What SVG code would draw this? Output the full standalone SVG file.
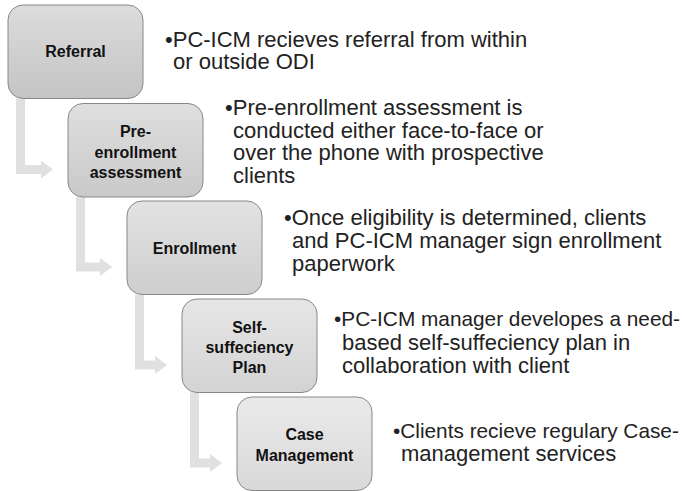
<svg xmlns="http://www.w3.org/2000/svg" width="682" height="491" viewBox="0 0 682 491">
  <defs>
    <linearGradient id="g1" x1="0" y1="0" x2="0" y2="1">
      <stop offset="0" stop-color="#dcdcdc"/>
      <stop offset="1" stop-color="#c4c4c4"/>
    </linearGradient>
    <linearGradient id="g2" x1="0" y1="0" x2="0" y2="1">
      <stop offset="0" stop-color="#dfdfdf"/>
      <stop offset="1" stop-color="#c9c9c9"/>
    </linearGradient>
    <linearGradient id="g3" x1="0" y1="0" x2="0" y2="1">
      <stop offset="0" stop-color="#e2e2e2"/>
      <stop offset="1" stop-color="#cecece"/>
    </linearGradient>
    <linearGradient id="g4" x1="0" y1="0" x2="0" y2="1">
      <stop offset="0" stop-color="#e6e6e6"/>
      <stop offset="1" stop-color="#d3d3d3"/>
    </linearGradient>
    <linearGradient id="g5" x1="0" y1="0" x2="0" y2="1">
      <stop offset="0" stop-color="#eaeaea"/>
      <stop offset="1" stop-color="#d9d9d9"/>
    </linearGradient>
  </defs>
  <style>
    .box { stroke: #888888; stroke-width: 1; }
    .label { font-family: "Liberation Sans", Arial, sans-serif; font-weight: bold; font-size: 16px; fill: #111111; text-anchor: middle; }
    .desc { font-family: "Liberation Sans", Arial, sans-serif; font-size: 22px; fill: #222222; }
    .desc .fit { font-size: 20.8px; }
    .bend { fill: #e0e0e0; }
  </style>

  <rect width="682" height="491" fill="#ffffff"/>

  <!-- bent connectors between consecutive steps -->
  <g id="connectors">
    <path class="bend" d="M16,98.5 H25 V165 H41 V160.5 L53,169.5 L41,178.5 V174 H16 Z"/>
    <path class="bend" d="M76,197 H85 V262.5 H100 V258 L112,267 L100,276 V271.5 H76 Z"/>
    <path class="bend" d="M135,294.5 H144 V360.5 H155 V356 L167,365 L155,374 V369.5 H135 Z"/>
    <path class="bend" d="M190,392.5 H199 V458.5 H210 V454 L222,463 L210,472 V467.5 H190 Z"/>
  </g>

  <g id="step-referral">
    <rect class="box" x="8" y="5" width="135" height="93.5" rx="15" fill="url(#g1)"/>
    <text class="label" x="75.5" y="57">Referral</text>
  </g>

  <g id="step-pre-enrollment">
    <rect class="box" x="68" y="103.5" width="135" height="93.5" rx="15" fill="url(#g2)"/>
    <text class="label" x="135.5" y="137">Pre-</text>
    <text class="label" x="135.5" y="157.5">enrollment</text>
    <text class="label" x="135.5" y="178">assessment</text>
  </g>

  <g id="step-enrollment">
    <rect class="box" x="127" y="201" width="135" height="93.5" rx="15" fill="url(#g3)"/>
    <text class="label" x="194.5" y="253.5">Enrollment</text>
  </g>

  <g id="step-plan">
    <rect class="box" x="182" y="299" width="135" height="93.5" rx="15" fill="url(#g4)"/>
    <text class="label" x="249.5" y="333">Self-</text>
    <text class="label" x="249.5" y="353">suffeciency</text>
    <text class="label" x="249.5" y="373">Plan</text>
  </g>

  <g id="step-case-management">
    <rect class="box" x="237" y="397" width="135" height="93.5" rx="15" fill="url(#g5)"/>
    <text class="label" x="304.5" y="440">Case</text>
    <text class="label" x="304.5" y="461">Management</text>
  </g>

  <!-- step descriptions -->
  <g id="desc-referral" class="desc">
    <text x="165" y="46.5">•PC-ICM recieves referral from within</text>
    <text x="173" y="69">or outside ODI</text>
  </g>
  <g id="desc-pre-enrollment" class="desc">
    <text x="225" y="115">•Pre-enrollment assessment is</text>
    <text x="233" y="137.5">conducted either face-to-face or</text>
    <text x="233" y="160">over the phone with prospective</text>
    <text x="233" y="182.5">clients</text>
  </g>
  <g id="desc-enrollment" class="desc">
    <text x="284" y="224.5">•Once eligibility is determined, clients</text>
    <text x="292" y="247.5">and PC-ICM manager sign enrollment</text>
    <text x="292" y="271">paperwork</text>
  </g>
  <g id="desc-plan" class="desc">
    <text class="fit" x="334" y="326">•PC-ICM manager developes a need-</text>
    <text x="342" y="349.5">based self-suffeciency plan in</text>
    <text x="342" y="372.5">collaboration with client</text>
  </g>
  <g id="desc-case-management" class="desc">
    <text class="fit" x="393" y="438">•Clients recieve regulary Case-</text>
    <text x="401" y="460.5">management services</text>
  </g>
</svg>
